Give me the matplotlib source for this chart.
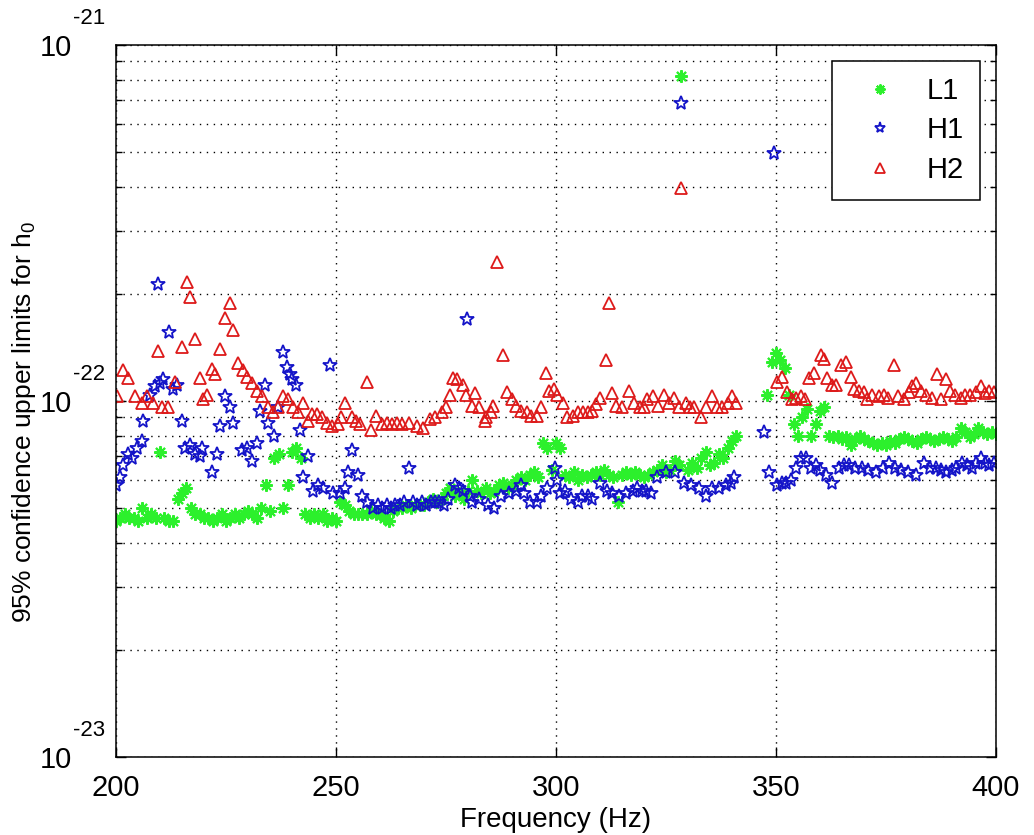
import numpy as np
import matplotlib
matplotlib.use("Agg")
import matplotlib.pyplot as plt
from matplotlib.transforms import blended_transform_factory, offset_copy
from matplotlib.ticker import FixedLocator, LogLocator, NullFormatter

plt.rcParams["font.family"] = ["Liberation Sans", "DejaVu Sans"]
plt.rcParams["mathtext.fontset"] = "custom"
plt.rcParams["mathtext.rm"] = "Liberation Sans"
plt.rcParams["mathtext.it"] = "Liberation Sans:italic"

# h0 values below are in units of 1e-22
SCALE = 1e-22

# ─── L1 ──────────────────────────────────────────────────
l1_freq = [200, 201, 202, 203, 204, 205, 206, 207, 208, 209,
           210, 211, 212, 213, 214, 215, 216, 217, 218, 219,
           220, 221, 222, 223, 224, 225, 226, 227, 228, 229,
           230, 231, 232, 233, 234, 235, 236, 237, 238, 239,
           240, 241, 242, 243, 244, 245, 246, 247, 248, 249,
           250, 251, 252, 253, 254, 255, 256, 257, 258, 259,
           260, 261, 262, 263, 264, 265, 266, 267, 268, 269,
           270, 271, 272, 273, 274, 275, 276, 277, 278, 279,
           280, 281, 282, 283, 284, 285, 286, 287, 288, 289,
           290, 291, 292, 293, 294, 295, 296, 297, 298, 299,
           300, 301, 302, 303, 304, 305, 306, 307, 308, 309,
           310, 311, 312, 313, 314, 315, 316, 317, 318, 319,
           320, 321, 322, 323, 324, 325, 326, 327, 328, 328.5,
           330, 331, 332, 333, 334, 335, 336, 337, 338, 339,
           340, 341,
           348, 349, 350, 351, 352, 353, 354, 355, 356, 357,
           358, 359, 360, 361, 362, 363, 364, 365, 366, 367,
           368, 369, 370, 371, 372, 373, 374, 375, 376, 377,
           378, 379, 380, 381, 382, 383, 384, 385, 386, 387,
           388, 389, 390, 391, 392, 393, 394, 395, 396, 397,
           398, 399, 400]
l1_val = [0.46, 0.47, 0.48, 0.47, 0.47, 0.46, 0.50, 0.47, 0.48, 0.47,
          0.72, 0.47, 0.46, 0.46, 0.53, 0.55, 0.57, 0.50, 0.48, 0.48,
          0.47, 0.47, 0.46, 0.47, 0.48, 0.46, 0.47, 0.48, 0.47, 0.48,
          0.49, 0.48, 0.47, 0.50, 0.58, 0.49, 0.69, 0.71, 0.50, 0.58,
          0.72, 0.74, 0.69, 0.48, 0.47, 0.48, 0.47, 0.48, 0.46, 0.47,
          0.46, 0.52, 0.51, 0.49, 0.48, 0.48, 0.48, 0.48, 0.49, 0.48,
          0.48, 0.47, 0.46, 0.49, 0.50, 0.50, 0.51, 0.50, 0.51, 0.51,
          0.51, 0.52, 0.53, 0.52, 0.53, 0.55, 0.57, 0.54, 0.55, 0.53,
          0.56, 0.60, 0.56, 0.55, 0.57, 0.55, 0.56, 0.58, 0.59, 0.57,
          0.58, 0.60, 0.61, 0.60, 0.62, 0.63, 0.61, 0.76, 0.74, 0.64,
          0.76, 0.74, 0.62, 0.61, 0.63, 0.60, 0.62, 0.61, 0.62, 0.63,
          0.62, 0.64, 0.62, 0.61, 0.52, 0.62, 0.63, 0.62, 0.63, 0.62,
          0.61, 0.62, 0.63, 0.64, 0.66, 0.63, 0.64, 0.68, 0.66, 8.20,
          0.64, 0.67, 0.65, 0.69, 0.72, 0.66, 0.67, 0.71, 0.69, 0.74,
          0.77, 0.80,
          1.04, 1.29, 1.36, 1.30, 1.24, 1.04, 0.86, 0.80, 0.90, 0.95,
          0.80, 0.86, 0.94, 0.96, 0.80, 0.79, 0.80, 0.78, 0.79, 0.75,
          0.78, 0.80, 0.78, 0.77, 0.76, 0.75, 0.76, 0.75, 0.77, 0.76,
          0.78, 0.79, 0.78, 0.77, 0.76, 0.78, 0.79, 0.78, 0.77, 0.78,
          0.79, 0.78, 0.77, 0.79, 0.84, 0.82, 0.79, 0.81, 0.84, 0.82,
          0.81, 0.82, 0.81]

# ─── H1 ──────────────────────────────────────────────────
h1_freq = [200.0, 201.0, 201.6, 202.8, 203.6, 204.7, 205.9, 206.2, 207.7, 208.8,
           209.6, 210.0, 210.6, 212.0, 213.0, 213.8, 215.0, 215.7, 216.8, 218.0,
           219.0, 219.5, 221.8, 223.0, 223.6, 224.7, 226.0, 226.6, 228.6, 229.7,
           230.9, 232.0, 232.7, 233.8, 234.5, 236.0, 236.8, 237.9, 238.8, 239.5,
           240.0, 241.0, 241.8, 242.5, 243.6, 244.7, 245.9, 247.0, 248.6, 249.3,
           250.8, 252.0, 252.7, 253.6, 255.0, 255.8, 257.0, 258.4, 259.5, 260.5,
           261.5, 262.5, 263.5, 264.5, 265.5, 266.7, 267.5, 268.5, 269.5, 270.5,
           271.5, 272.5, 273.5, 274.5, 275.5, 277.0, 278.0, 278.8, 279.7, 280.4,
           281.0, 282.6, 284.5, 286.0, 287.6, 289.4, 291.0, 292.0, 292.8, 294.0,
           295.6, 296.7, 298.0, 299.7, 300.3, 300.8, 302.0, 303.5, 305.0, 306.0,
           307.2, 308.3, 310.0, 311.5, 312.8, 314.4, 316.0, 317.4, 318.5, 319.5,
           320.5, 321.5, 323.0, 325.0, 327.0, 328.5, 329.2, 330.8, 332.5, 334.2,
           335.5, 337.0, 338.7, 339.8, 340.5, 347.3, 348.5, 349.6, 350.3, 351.3,
           352.3, 353.5, 354.6, 355.7, 356.8, 358.0, 359.0, 360.0, 361.4, 362.8,
           364.4, 365.5, 366.6, 368.0, 369.6, 371.0, 372.8, 374.3, 375.7, 377.0,
           378.5, 380.0, 381.8, 383.6, 385.0, 386.3, 387.5, 388.6, 390.0, 390.9,
           392.3, 393.5, 394.6, 395.5, 396.6, 397.5, 398.4, 399.5]
h1_val = [0.58, 0.61, 0.66, 0.71, 0.69, 0.74, 0.77, 0.88, 1.04, 1.10,
          2.13, 1.12, 1.15, 1.56, 1.08, 1.11, 0.88, 0.74, 0.75, 0.71,
          0.70, 0.74, 0.63, 0.71, 0.85, 1.03, 0.96, 0.87, 0.73, 0.74,
          0.68, 0.76, 0.94, 1.11, 0.87, 0.80, 0.96, 1.37, 1.25, 1.19,
          1.15, 1.11, 0.83, 0.61, 0.70, 0.56, 0.58, 0.57, 1.26, 0.55,
          0.55, 0.57, 0.63, 0.73, 0.62, 0.54, 0.52, 0.50, 0.51, 0.50,
          0.51, 0.50, 0.51, 0.51, 0.52, 0.65, 0.52, 0.51, 0.52, 0.51,
          0.52, 0.52, 0.52, 0.51, 0.53, 0.58, 0.57, 0.56, 1.70, 0.54,
          0.52, 0.53, 0.51, 0.50, 0.54, 0.55, 0.56, 0.58, 0.55, 0.52,
          0.52, 0.54, 0.57, 0.65, 0.60, 0.55, 0.56, 0.53, 0.52, 0.54,
          0.54, 0.53, 0.59, 0.56, 0.55, 0.54, 0.55, 0.56, 0.57, 0.56,
          0.56, 0.55, 0.61, 0.63, 0.63, 6.87, 0.59, 0.58, 0.57, 0.54,
          0.57, 0.57, 0.58, 0.59, 0.61, 0.82, 0.63, 4.97, 0.58, 0.59,
          0.59, 0.60, 0.65, 0.69, 0.69, 0.65, 0.66, 0.64, 0.62, 0.59,
          0.65, 0.66, 0.66, 0.65, 0.65, 0.64, 0.63, 0.65, 0.67, 0.65,
          0.64, 0.63, 0.62, 0.67, 0.65, 0.65, 0.64, 0.63, 0.64, 0.65,
          0.67, 0.66, 0.65, 0.67, 0.69, 0.67, 0.66, 0.67]

# ─── H2 ──────────────────────────────────────────────────
h2_freq = [200.2, 201.6, 202.7, 204.3, 205.9, 207.0, 208.4, 209.5, 210.4, 211.8,
           213.4, 215.0, 216.1, 216.8, 217.9, 219.0, 219.7, 220.6, 221.8, 222.5,
           223.6, 224.7, 225.9, 226.6, 227.7, 228.8, 229.7, 230.9, 232.0, 233.1,
           234.5, 235.6, 236.8, 237.9, 239.0, 240.2, 241.3, 242.4, 243.6, 244.6,
           245.6, 246.8, 247.9, 249.0, 250.4, 251.2, 252.0, 253.6, 254.5, 255.4,
           257.0, 258.0, 259.2, 260.4, 261.5, 262.7, 263.8, 265.0, 266.7, 268.3,
           269.7, 271.3, 272.5, 274.0, 275.0, 275.8, 276.5, 277.6, 278.8, 279.6,
           280.8, 281.5, 282.6, 283.8, 284.2, 285.3, 285.6, 286.5, 287.9, 288.8,
           289.9, 291.0, 292.1, 293.3, 294.4, 295.6, 296.7, 297.8, 298.5, 299.5,
           300.3, 301.5, 302.6, 303.8, 305.0, 306.1, 307.2, 308.3, 309.2, 310.0,
           311.3, 312.0, 312.8, 313.7, 315.1, 316.7, 317.8, 319.0, 320.0, 320.8,
           322.0, 323.2, 324.6, 325.7, 326.9, 328.0, 328.5, 329.5, 330.5, 331.4,
           333.0, 334.2, 335.5, 336.6, 337.8, 339.0, 340.0, 341.0, 350.3, 351.4,
           352.6, 353.7, 354.6, 355.7, 356.5, 357.5, 358.7, 360.3, 361.0, 361.6,
           362.7, 363.7, 364.8, 366.0, 367.0, 367.8, 368.9, 370.0, 370.7, 371.8,
           373.4, 374.5, 375.5, 376.8, 377.8, 379.0, 380.2, 381.0, 381.8, 383.0,
           384.2, 385.5, 386.6, 387.6, 388.6, 389.6, 390.8, 392.0, 393.0, 394.2,
           395.4, 396.6, 397.5, 398.4, 399.5]
h2_val = [1.03, 1.22, 1.16, 1.03, 0.99, 1.03, 0.99, 1.38, 0.96, 0.96,
          1.13, 1.42, 2.16, 1.96, 1.49, 1.16, 1.01, 1.04, 1.23, 1.19,
          1.40, 1.71, 1.88, 1.58, 1.28, 1.22, 1.17, 1.12, 1.07, 1.03,
          0.96, 0.93, 0.96, 1.03, 1.01, 0.96, 0.93, 0.99, 0.88, 0.92,
          0.92, 0.90, 0.87, 0.85, 0.86, 0.90, 0.99, 0.90, 0.88, 0.86,
          1.13, 0.83, 0.91, 0.86, 0.87, 0.86, 0.87, 0.86, 0.87, 0.85,
          0.84, 0.89, 0.90, 0.93, 0.96, 1.04, 1.16, 1.15, 1.11, 1.04,
          0.97, 1.05, 0.96, 0.88, 0.90, 0.93, 0.97, 2.46, 1.35, 1.06,
          1.01, 0.97, 0.94, 0.93, 0.91, 0.91, 0.96, 1.20, 1.07, 1.08,
          1.04, 0.99, 0.90, 0.91, 0.93, 0.93, 0.93, 0.94, 0.98, 1.02,
          1.30, 1.88, 1.05, 0.97, 0.96, 1.07, 0.99, 0.96, 0.96, 1.01,
          1.03, 0.97, 1.04, 0.99, 1.02, 0.96, 3.97, 0.99, 0.96, 0.96,
          0.90, 0.96, 1.03, 0.96, 0.96, 0.99, 1.03, 0.99, 1.13, 1.17,
          1.06, 1.01, 1.02, 1.03, 1.01, 1.16, 1.20, 1.35, 1.31, 1.16,
          1.11, 1.11, 1.26, 1.29, 1.17, 1.08, 1.07, 1.06, 1.01, 1.04,
          1.03, 1.04, 1.02, 1.26, 1.03, 1.01, 1.06, 1.10, 1.12, 1.07,
          1.04, 1.02, 1.19, 1.01, 1.15, 1.07, 1.04, 1.02, 1.04, 1.04,
          1.06, 1.10, 1.05, 1.07, 1.06]

L1_GREEN = "#2cf02c"
H1_BLUE = "#1414c8"
H2_RED = "#dd1a1a"

fig = plt.figure(figsize=(10.34, 8.35), dpi=100)
ax = fig.add_axes([0.1122, 0.0934, 0.8510, 0.8527])

ax.plot(l1_freq, np.array(l1_val) * SCALE, ls="none", marker=(8, 2, 0),
        ms=9, mec=L1_GREEN, mfc=L1_GREEN, mew=1.5, label="L1")
ax.plot(h1_freq, np.array(h1_val) * SCALE, ls="none", marker="*",
        ms=10, mfc="none", mec=H1_BLUE, mew=1.3, label="H1")
ax.plot(h2_freq, np.array(h2_val) * SCALE, ls="none", marker="^",
        ms=8.5, mfc="none", mec=H2_RED, mew=1.3, label="H2")

ax.set_yscale("log")
ax.set_xlim(200, 400)
ax.set_ylim(1e-23, 1e-21)
ax.set_xticks([200, 250, 300, 350, 400])

ymaj = [1e-23, 1e-22, 1e-21]
ax.yaxis.set_major_locator(FixedLocator(ymaj))
ax.yaxis.set_minor_locator(LogLocator(base=10, subs=np.arange(2, 10)))
ax.yaxis.set_minor_formatter(NullFormatter())
ax.set_yticklabels(["10", "10", "10"])

ax.tick_params(which="both", direction="in", top=True, right=True, width=1)
ax.tick_params(which="major", length=7)
ax.tick_params(which="minor", length=4)
ax.tick_params(axis="x", labelsize=21, pad=12)
ax.tick_params(axis="y", labelsize=21, pad=32)
for s in ax.spines.values():
    s.set_linewidth(1.1)

ax.grid(which="major", color="black", lw=1.0, dashes=(1, 4))
ax.grid(which="minor", axis="y", color="black", lw=1.0, dashes=(1, 4))
ax.set_axisbelow(True)

# exponent labels, MATLAB style
trans = blended_transform_factory(ax.transAxes, ax.transData)
trans = offset_copy(trans, fig=fig, y=19, units="points")
for v, e in zip(ymaj, ["-23", "-22", "-21"]):
    ax.text(-0.049, v, e, transform=trans, fontsize=16, ha="left", va="center")

ax.set_xlabel("Frequency (Hz)", fontsize=20, labelpad=4)
ax.set_ylabel("95% confidence upper limits for h$_0$", fontsize=19)
ax.yaxis.set_label_coords(-0.089, 0.47)

leg = ax.legend(loc="upper right", bbox_to_anchor=(0.982, 0.978), borderaxespad=0,
                fontsize=21, numpoints=1, fancybox=False, framealpha=1,
                edgecolor="black", borderpad=0.55, labelspacing=0.4,
                handlelength=2.2, handletextpad=0.5, markerscale=0.8)
leg.get_frame().set_linewidth(1.1)

fig.savefig("out.png", dpi=100, facecolor="white")
